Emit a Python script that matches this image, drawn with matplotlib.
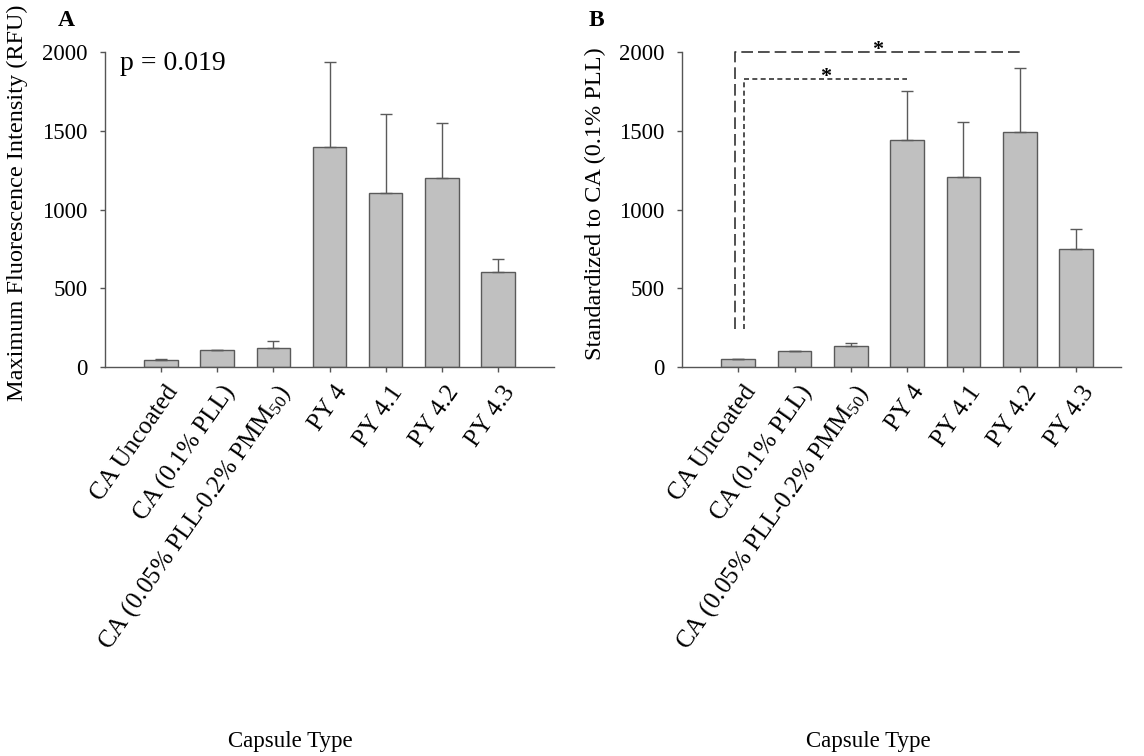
import numpy as np
import matplotlib
matplotlib.use('Agg')
import matplotlib.pyplot as plt
from matplotlib.transforms import ScaledTranslation

plt.rcParams['font.family'] = ['Liberation Serif', 'DejaVu Serif']
plt.rcParams['mathtext.fontset'] = 'custom'
plt.rcParams['mathtext.rm'] = 'Liberation Serif'
plt.rcParams['mathtext.it'] = 'Liberation Serif:italic'

# capsule types on the x axis
categories = ['CA Uncoated', 'CA (0.1% PLL)', r'CA (0.05% PLL-0.2% PMM$_{\mathrm{50}}$)',
              'PY 4', 'PY 4.1', 'PY 4.2', 'PY 4.3']

# panel A: maximum fluorescence intensity (RFU)
max_fluor = [42, 110, 123, 1397, 1107, 1200, 603]
max_fluor_err = [11, 0, 40, 540, 499, 349, 85]

# panel B: standardized to CA (0.1% PLL)
standardized = [48, 100, 132, 1439, 1208, 1494, 747]
standardized_err = [5, 0, 19, 315, 350, 407, 129]

yticks = [0, 500, 1000, 1500, 2000]

bar_color = '#c0c0c0'
edge_color = '#5a5a5a'
axis_color = '#555555'

fig = plt.figure(figsize=(11.44, 7.56), dpi=100)
axA = fig.add_axes([105/1144, 1-367/756, 449/1144, 315/756])
axB = fig.add_axes([682/1144, 1-367/756, 439/1144, 315/756])


def draw_panel(ax, vals, errs, xmax, ylabel):
    x = np.arange(len(categories))
    ax.bar(x, vals, width=0.6, color=bar_color, edgecolor=edge_color, linewidth=1.0, zorder=2)
    ax.errorbar(x, vals, yerr=[np.zeros(len(errs)), errs], fmt='none',
                ecolor=edge_color, elinewidth=1.0, capsize=4, capthick=1.0, zorder=3)
    ax.set_xlim(-1, xmax)
    ax.set_ylim(0, 2000)
    ax.set_yticks(yticks)
    ax.set_yticklabels([str(t) for t in yticks], fontsize=16.5)
    ax.set_xticks(x)
    ax.set_xticklabels([])
    # rotated category labels, shifted right/down of each tick like the original
    shift = ScaledTranslation(13/100, -21/100, fig.dpi_scale_trans)
    for xi, cat in zip(x, categories):
        ax.text(xi, 0, cat, transform=ax.get_xaxis_transform() + shift,
                fontsize=18, rotation=55, ha='right', va='center',
                rotation_mode='anchor')
    for side in ['top', 'right']:
        ax.spines[side].set_visible(False)
    for side in ['left', 'bottom']:
        ax.spines[side].set_color(axis_color)
        ax.spines[side].set_linewidth(1.0)
    ax.tick_params(axis='y', direction='out', length=3.5, width=1.0, color=axis_color, pad=9)
    ax.tick_params(axis='x', direction='out', length=3.5, width=1.0, color=axis_color, pad=0)
    ax.set_ylabel(ylabel, fontsize=17.5)
    ax.yaxis.set_label_coords(-0.172, 0.52)


draw_panel(axA, max_fluor, max_fluor_err, 7.0, 'Maximum Fluorescence Intensity (RFU)')
draw_panel(axB, standardized, standardized_err, 6.8, 'Standardized to CA (0.1% PLL)')

axA.text(-0.73, 1928, 'p = 0.019', fontsize=20, ha='left', va='center')

# significance brackets in panel B
axB.plot([-0.05, -0.05, 5.0], [240, 2000, 2000], color='#333333', lw=1.2,
         dashes=(7, 3), clip_on=False, zorder=4)
axB.plot([0.1, 0.1, 3.0], [240, 1827, 1827], color='#333333', lw=1.2,
         dashes=(3, 2), clip_on=False, zorder=4)
axB.text(2.48, 1979, '*', fontsize=16, fontweight='bold', ha='center', va='baseline')
axB.text(1.55, 1810, '*', fontsize=16, fontweight='bold', ha='center', va='baseline')

fig.text(66/1144, 1-21/756, 'A', fontsize=17, fontweight='bold', ha='center', va='center')
fig.text(596/1144, 1-21/756, 'B', fontsize=17, fontweight='bold', ha='center', va='center')
fig.text(290/1144, 1-741/756, 'Capsule Type', fontsize=16.5, ha='center', va='center')
fig.text(868/1144, 1-741/756, 'Capsule Type', fontsize=16.5, ha='center', va='center')

fig.savefig('out.png', dpi=100, facecolor='white')
